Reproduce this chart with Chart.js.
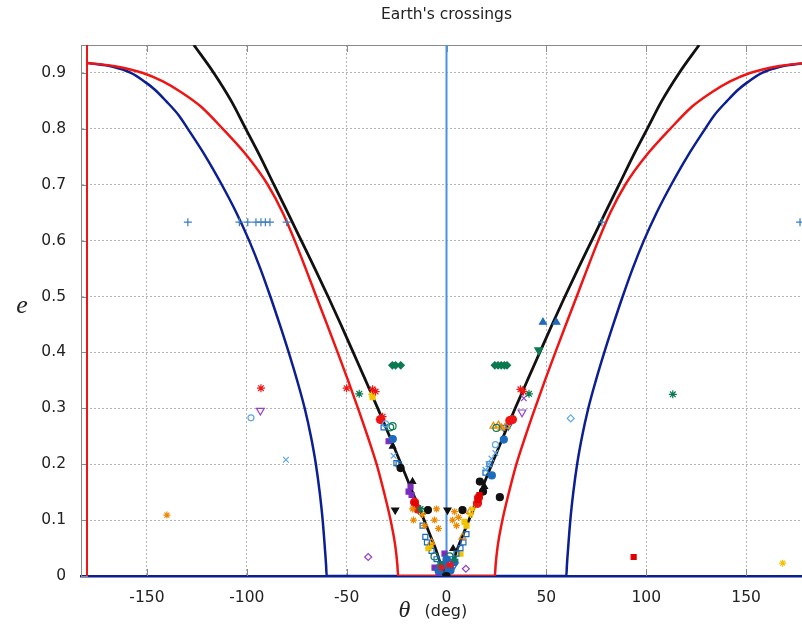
<!DOCTYPE html>
<html>
<head>
<meta charset="utf-8">
<script src="https://cdn.jsdelivr.net/npm/chart.js@4.4.0/dist/chart.umd.min.js"></script>
<style>
  html, body { margin: 0; padding: 0; background: #fff; overflow: hidden; }
  #wrap { width: 830px; height: 628px; }
</style>
</head>
<body>
<div id="wrap"><canvas id="myChart" width="830" height="628"></canvas></div>
<script>
// *Curves (theta in deg, e)
const blackTheta = [-126.5, -116.5, -107.8, -100.5, -93.2, -86.4, -79.5, -72.7, -65.9, -59.3, -52.9, -46.7, -40.5, -34.4, -28.5, -22.7, -17, -11.2, -5.6, 0,
    5.6, 11.2, 17, 22.7, 28.5, 34.4, 40.5, 46.7, 52.9, 59.3, 65.9, 72.7, 79.5, 86.4, 93.2, 100.5, 107.8, 116.5, 126.5];
const blackE = [0.95, 0.9, 0.85, 0.8, 0.75, 0.7, 0.65, 0.6, 0.55, 0.5, 0.45, 0.4, 0.35, 0.3, 0.25, 0.2, 0.15, 0.1, 0.05, 0,
    0.05, 0.1, 0.15, 0.2, 0.25, 0.3, 0.35, 0.4, 0.45, 0.5, 0.55, 0.6, 0.65, 0.7, 0.75, 0.8, 0.85, 0.9, 0.95];

const redTheta = [-180, -166, -152, -142, -133, -123, -112, -99.5, -89.5, -82, -76, -70.5, -65.2, -59.8, -54.5, -49.3, -44.3, -39.5, -35, -31.3, -28, -25.5, -24.6, -24.2,
    24.2, 24.6, 25.5, 28, 31.3, 35, 39.5, 44.3, 49.3, 54.5, 59.8, 65.2, 70.5, 76, 82, 89.5, 99.5, 112, 123, 133, 142, 152, 166, 180];
const redE = [0.918, 0.912, 0.9, 0.885, 0.866, 0.84, 0.8, 0.75, 0.7, 0.65, 0.6, 0.55, 0.5, 0.45, 0.4, 0.35, 0.3, 0.25, 0.2, 0.15, 0.1, 0.05, 0.02, 0,
    0, 0.02, 0.05, 0.1, 0.15, 0.2, 0.25, 0.3, 0.35, 0.4, 0.45, 0.5, 0.55, 0.6, 0.65, 0.7, 0.75, 0.8, 0.84, 0.866, 0.885, 0.9, 0.912, 0.918];

const blueTheta = [-180, -167, -158, -151, -146, -140.5, -134, -129.5, -120.5, -112.5, -105.2, -98.8, -93.2, -88.2, -83.5, -79, -74.8, -71, -67.9, -65.4, -63.5, -62, -60.9, -60.3, -60,
    60, 60.3, 60.9, 62, 63.5, 65.4, 67.9, 71, 74.8, 79, 83.5, 88.2, 93.2, 98.8, 105.2, 112.5, 120.5, 129.5, 134, 140.5, 146, 151, 158, 167, 180];
const blueE = [0.918, 0.911, 0.9, 0.884, 0.87, 0.85, 0.824, 0.8, 0.75, 0.7, 0.65, 0.6, 0.55, 0.5, 0.45, 0.4, 0.35, 0.3, 0.25, 0.2, 0.15, 0.1, 0.05, 0.02, 0,
    0, 0.02, 0.05, 0.1, 0.15, 0.2, 0.25, 0.3, 0.35, 0.4, 0.45, 0.5, 0.55, 0.6, 0.65, 0.7, 0.75, 0.8, 0.824, 0.85, 0.87, 0.884, 0.9, 0.911, 0.918];

const lineBlueTheta = [0, 0];
const lineBlueE = [0, 0.95];
const lineRedTheta = [-180, -180];
const lineRedE = [0, 0.95];

// *Markers (theta in deg, e)
const plusBlueTheta = [-129.5, -103.7, -99.5, -95.4, -92.9, -90.7, -88.4, -80, 77.8, 177];
const plusBlueE = [0.633, 0.633, 0.633, 0.633, 0.633, 0.633, 0.633, 0.633, 0.633, 0.633];

const starRedTheta = [-92.9, -50, -37, -35.5, 37, 38.5, -33.5, -32, 2, -2.5];
const starRedE = [0.336, 0.336, 0.334, 0.33, 0.334, 0.33, 0.28, 0.285, 0.02, 0.015];

const starGreenTheta = [-43.7, 41.3, 113.3, -13, -3, 4];
const starGreenE = [0.326, 0.326, 0.325, 0.12, 0.02, 0.03];

const diamondGreenTheta = [-27.1, -25.5, -22.9, 24.2, 25.8, 27.4, 29, 30.3];
const diamondGreenE = [0.377, 0.377, 0.377, 0.377, 0.377, 0.377, 0.377, 0.377];

const triDownPurpleTheta = [-93.2, 37.8];
const triDownPurpleE = [0.296, 0.293];

const circleLightTheta = [-97.9, -30.5, 24.5];
const circleLightE = [0.283, 0.272, 0.235];

const diamondLightTheta = [62.2];
const diamondLightE = [0.282];

const xLightTheta = [-80.4, -26.5, 19.5, 21, 22.5, 24.5];
const xLightE = [0.208, 0.215, 0.19, 0.2, 0.21, 0.22];

const starOrangeTheta = [-140, -17, -16.5, -12, -11, -6, -5, -4, 3, 4, 5, 6];
const starOrangeE = [0.109, 0.12, 0.1, 0.11, 0.09, 0.1, 0.12, 0.085, 0.1, 0.115, 0.09, 0.105];

const starYellowTheta = [168.3, -37.5, 12, -9, 13];
const starYellowE = [0.023, 0.325, 0.11, 0.05, 0.12];

const triDownBlackTheta = [-25.7, 0.5];
const triDownBlackE = [0.118, 0.118];

const triBlueTheta = [48.3, 55];
const triBlueE = [0.454, 0.454];

const triDownGreenTheta = [46.2];
const triDownGreenE = [0.404];

const xPurpleTheta = [38.7];
const xPurpleE = [0.318];

const squareRedTheta = [93.7, 15.8, -16, 16.5];
const squareRedE = [0.034, 0.136, 0.13, 0.145];

const diamondPurpleTheta = [-39.2, 9.7];
const diamondPurpleE = [0.034, 0.013];

const circleBlackTheta = [26.7, 8, -9.3, -23, 16.7, 18.3, 0];
const circleBlackE = [0.141, 0.118, 0.118, 0.193, 0.169, 0.151, 0];

const squareBlueTheta = [-31.5, -25.1, -24, -10.6, -9.8, -7.5, -5, -3, -1, 1, 3, 5, 7, 8.5, 10, 19.5, 21.5, -12];
const squareBlueE = [0.266, 0.202, 0.2, 0.07, 0.06, 0.045, 0.03, 0.02, 0.01, 0.01, 0.03, 0.04, 0.05, 0.06, 0.075, 0.185, 0.2, 0.09];

const circleBlueTheta = [-26.9, 28.7, 22.7, -2, 0, 2, -4, 4];
const circleBlueE = [0.245, 0.244, 0.18, 0.02, 0.03, 0.01, 0.01, 0.025];

const circleRedTheta = [-33, -16, 31.7, 33, 16, 15.5, -0.5, -14.5];
const circleRedE = [0.28, 0.132, 0.278, 0.28, 0.14, 0.13, 0.02, 0.12];

const circleGreenTheta = [-28.2, -27, 25, -12.5, 1.5, -6];
const circleGreenE = [0.266, 0.268, 0.265, 0.115, 0.035, 0.035];

const triOrangeTheta = [23.5, 26, 27.5, 30, -7.5, 8, 11.7];
const triOrangeE = [0.268, 0.27, 0.265, 0.268, 0.06, 0.07, 0.115];

const triDownBlueTheta = [28.5, 31, -2, 4];
const triDownBlueE = [0.266, 0.268, 0.005, 0.02];

const squarePurpleTheta = [-19, -18, -17.5, -29, -6, -4, 1, -1];
const squarePurpleE = [0.151, 0.16, 0.145, 0.241, 0.015, 0.005, 0.01, 0.04];

const squareYellowTheta = [-37, -9, -8, 10, 7, 9];
const squareYellowE = [0.32, 0.05, 0.055, 0.09, 0.04, 0.097];

const triBlackTheta = [-27, -17, 19, -1, 3.3];
const triBlackE = [0.232, 0.169, 0.16, 0.005, 0.049];

// *Ticks
const xTicks = [-150, -100, -50, 0, 50, 100, 150];
const yTicks = [0, 0.1, 0.2, 0.3, 0.4, 0.5, 0.6, 0.7, 0.8, 0.9];

function pts(xs, ys) {
    return xs.map((x, i) => ({ x: x, y: ys[i] }));
}

function marker(xs, ys, color, style, filled, radius, rotation) {
    return {
        data: pts(xs, ys),
        showLine: false,
        pointStyle: style,
        pointRadius: radius || 3.5,
        pointRotation: rotation || 0,
        pointBorderColor: color,
        pointBackgroundColor: filled ? color : 'rgba(0,0,0,0)',
        pointBorderWidth: 1.2
    };
}

function curve(xs, ys, color, width) {
    return {
        data: pts(xs, ys),
        showLine: true,
        borderColor: color,
        borderWidth: width,
        pointRadius: 0,
        fill: false,
        cubicInterpolationMode: 'monotone'
    };
}

const NAVY = '#0c1f92';
const RED = '#ee1515';
const GREEN = '#0b7a50';
const LIGHT = '#5ea6e6';
const BLUE = '#1d6bbd';
const PURPLE = '#9440c8';
const ORANGE = '#ee8a00';
const YELLOW = '#f4c300';

const datasets = [
    marker(plusBlueTheta, plusBlueE, '#3a7cc2', 'cross', false, 4),
    marker(starRedTheta, starRedE, RED, 'star', false, 4),
    marker(starGreenTheta, starGreenE, GREEN, 'star', false, 4),
    marker(diamondGreenTheta, diamondGreenE, GREEN, 'rectRot', true, 3.5),
    marker(triDownPurpleTheta, triDownPurpleE, PURPLE, 'triangle', false, 4.5, 180),
    marker(circleLightTheta, circleLightE, LIGHT, 'circle', false, 3),
    marker(diamondLightTheta, diamondLightE, LIGHT, 'rectRot', false, 3.5),
    marker(xLightTheta, xLightE, LIGHT, 'crossRot', false, 4),
    marker(starOrangeTheta, starOrangeE, ORANGE, 'star', false, 3.5),
    marker(starYellowTheta, starYellowE, YELLOW, 'star', false, 3.5),
    marker(triDownBlackTheta, triDownBlackE, '#111', 'triangle', true, 4, 180),
    marker(triBlueTheta, triBlueE, BLUE, 'triangle', true, 4),
    marker(triDownGreenTheta, triDownGreenE, GREEN, 'triangle', true, 4.5, 180),
    marker(xPurpleTheta, xPurpleE, PURPLE, 'crossRot', false, 4),
    marker(squareRedTheta, squareRedE, '#e00000', 'rect', true, 3.5),
    marker(diamondPurpleTheta, diamondPurpleE, PURPLE, 'rectRot', false, 3.5),
    marker(circleBlackTheta, circleBlackE, '#111', 'circle', true, 3.5),
    marker(squareBlueTheta, squareBlueE, BLUE, 'rect', false, 3.5),
    marker(circleBlueTheta, circleBlueE, BLUE, 'circle', true, 3.5),
    marker(circleRedTheta, circleRedE, RED, 'circle', true, 4),
    marker(circleGreenTheta, circleGreenE, GREEN, 'circle', false, 3.5),
    marker(triOrangeTheta, triOrangeE, ORANGE, 'triangle', false, 4),
    marker(triDownBlueTheta, triDownBlueE, BLUE, 'triangle', false, 4, 180),
    marker(squarePurpleTheta, squarePurpleE, '#7b2cbf', 'rect', true, 3.5),
    marker(squareYellowTheta, squareYellowE, YELLOW, 'rect', true, 3.5),
    marker(triBlackTheta, triBlackE, '#111', 'triangle', true, 3.5),
    curve(lineBlueTheta, lineBlueE, '#4a92e4', 2),
    curve(blackTheta, blackE, '#111111', 2.8),
    curve(redTheta, redE, RED, 2.5),
    curve(lineRedTheta, lineRedE, RED, 2),
    curve(blueTheta, blueE, NAVY, 2.5)
];

// *Frame, inner tick marks, title and axis titles
const framePlugin = {
    id: 'frame',
    beforeDatasetsDraw(chart) {
        const { ctx, chartArea: a, scales } = chart;
        ctx.save();
        ctx.strokeStyle = '#8a8a8a';
        ctx.lineWidth = 1;
        ctx.beginPath();
        ctx.moveTo(a.left + 0.5, a.bottom);
        ctx.lineTo(a.left + 0.5, a.top + 0.5);
        ctx.lineTo(a.right - 0.5, a.top + 0.5);
        ctx.lineTo(a.right - 0.5, a.bottom);
        xTicks.forEach(v => {
            const px = Math.round(scales.x.getPixelForValue(v)) + 0.5;
            ctx.moveTo(px, a.bottom);
            ctx.lineTo(px, a.bottom - 7);
            ctx.moveTo(px, a.top);
            ctx.lineTo(px, a.top + 7);
        });
        yTicks.forEach(v => {
            const py = Math.round(scales.y.getPixelForValue(v)) + 0.5;
            ctx.moveTo(a.left, py);
            ctx.lineTo(a.left + 7, py);
        });
        ctx.stroke();
        ctx.restore();
    },
    afterDraw(chart) {
        const { ctx, chartArea: a } = chart;
        const cx = (a.left + a.right) / 2;
        ctx.save();
        ctx.fillStyle = '#222';
        ctx.textBaseline = 'middle';
        ctx.textAlign = 'center';
        ctx.font = '15.5px "DejaVu Sans"';
        ctx.fillText("Earth's crossings", cx, 15);
        ctx.font = 'italic 26px "Liberation Serif"';
        ctx.fillText('e', 22, a.top + (a.bottom - a.top) / 2 - 4);
        ctx.font = 'italic 24px "Liberation Serif"';
        ctx.fillText('\u03b8', cx - 42, 611);
        ctx.font = '16px "DejaVu Sans"';
        ctx.textAlign = 'left';
        ctx.fillText('(deg)', cx - 22, 612);
        ctx.restore();
    }
};

new Chart("myChart", {
    type: "scatter",
    data: { datasets: datasets },
    plugins: [framePlugin],
    options: {
        responsive: false,
        animation: false,
        layout: { padding: { left: 0, right: 18, top: 45, bottom: 0 } },
        plugins: {
            legend: { display: false },
            title: { display: false },
            tooltip: { enabled: false }
        },
        scales: {
            x: {
                type: 'linear',
                min: -183,
                max: 183,
                afterBuildTicks: (scale) => { scale.ticks = xTicks.map(v => ({ value: v })); },
                afterFit: (scale) => { scale.height = 52; },
                ticks: { color: '#222', padding: 13, font: { family: 'DejaVu Sans', size: 15.5 } },
                grid: { color: '#b4b4b4', lineWidth: 1, drawTicks: false },
                border: { color: NAVY, width: 2.5, dash: [2, 2] }
            },
            y: {
                type: 'linear',
                min: 0,
                max: 0.95,
                afterBuildTicks: (scale) => { scale.ticks = yTicks.map(v => ({ value: v })); },
                afterFit: (scale) => { scale.width = 81; },
                ticks: { color: '#222', padding: 15, font: { family: 'DejaVu Sans', size: 15.5 } },
                grid: { color: '#b4b4b4', lineWidth: 1, drawTicks: false },
                border: { color: '#8a8a8a', width: 1, dash: [2, 2] }
            }
        }
    }
});
</script>
</body>
</html>
